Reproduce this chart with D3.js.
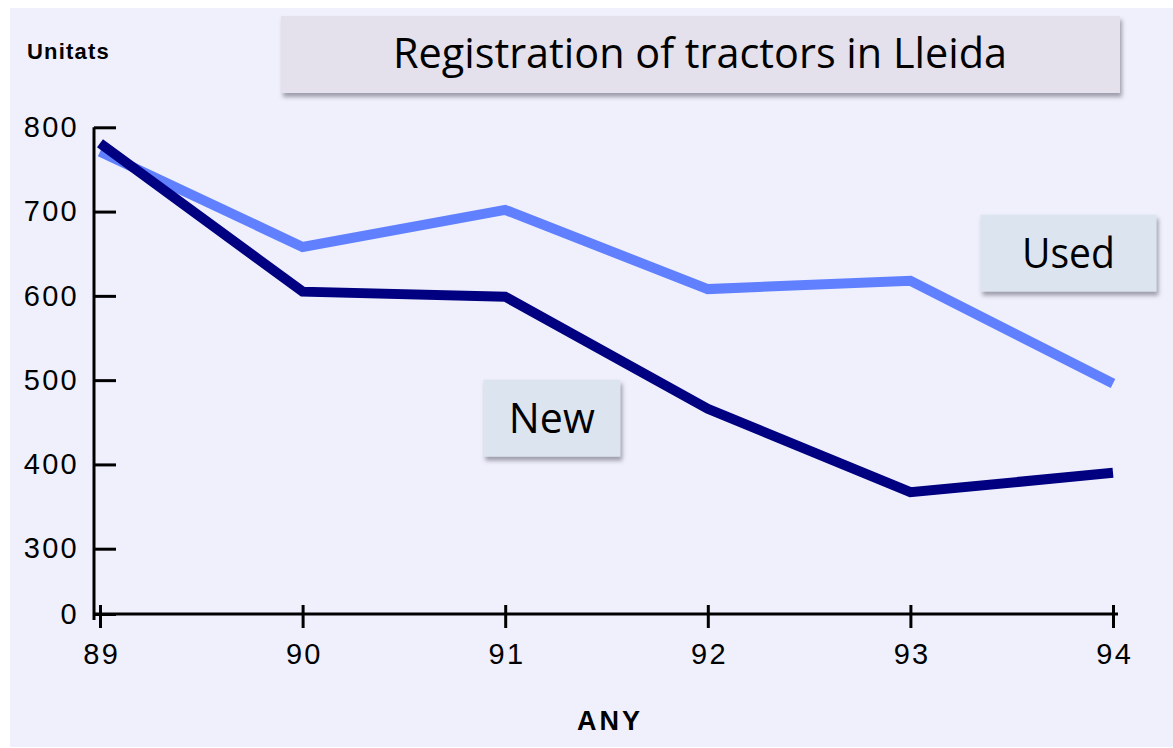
<!DOCTYPE html>
<html>
<head>
<meta charset="utf-8">
<script src="https://cdn.jsdelivr.net/npm/d3@7"></script>
<style>
  body { margin: 0; background: #fff; }
  svg { display: block; }
</style>
</head>
<body>
<svg id="chart" width="1173" height="748"></svg>
<script>
var years = [89, 90, 91, 92, 93, 94];
var newTractors = [781, 605, 599, 466, 367, 390];
var usedTractors = [771, 658, 702, 608, 618, 496];
var yTicks = [0, 300, 400, 500, 600, 700, 800];

var svg = d3.select("svg#chart"),
    width = +svg.attr("width"),
    height = +svg.attr("height");

// broken value axis: 0 sits just under 300
var x = d3.scaleLinear().domain([89, 94]).range([100, 1113]);
var y = d3.scaleLinear().domain([0, 300, 800]).range([614, 548.7, 127.3]);

var defs = svg.append("defs");
var shadow = defs.append("filter").attr("id", "shadow")
    .attr("x", "-10%").attr("y", "-20%").attr("width", "130%").attr("height", "160%");
shadow.append("feDropShadow")
    .attr("dx", 2).attr("dy", 4).attr("stdDeviation", 2)
    .attr("flood-color", "#5a5a6a").attr("flood-opacity", 0.55);

svg.append("rect")
    .attr("x", 10).attr("y", 8)
    .attr("width", width - 10).attr("height", height - 9)
    .attr("fill", "#f0f0fc");

// title box
svg.append("rect")
    .attr("x", 281).attr("y", 16).attr("width", 839).attr("height", 77)
    .attr("fill", "#e4e0ec").attr("filter", "url(#shadow)");
svg.append("text")
    .attr("x", 700).attr("y", 68)
    .attr("text-anchor", "middle")
    .attr("font-family", "'Open Sans', sans-serif")
    .attr("font-size", 42)
    .attr("textLength", 614).attr("lengthAdjust", "spacingAndGlyphs")
    .attr("fill", "#000")
    .text("Registration of tractors in Lleida");

// axes
var yAxis = d3.axisLeft(y)
    .tickValues(yTicks)
    .tickSizeInner(-22)
    .tickSizeOuter(0)
    .tickPadding(15)
    .tickFormat(d3.format("d"));

var gy = svg.append("g").attr("transform", "translate(94,0)").call(yAxis);
gy.select(".domain").remove();
gy.selectAll(".tick line").attr("stroke", "#000").attr("stroke-width", 3);
gy.selectAll(".tick text")
    .attr("font-family", "'Liberation Sans', Arial, sans-serif")
    .attr("font-size", 29)
    .attr("letter-spacing", 2.3)
    .attr("fill", "#000");
gy.append("line")
    .attr("x1", 0).attr("x2", 0)
    .attr("y1", y(800)).attr("y2", y(0) + 6)
    .attr("stroke", "#000").attr("stroke-width", 3);

var xAxis = d3.axisBottom(x)
    .tickValues(years)
    .tickSizeInner(14)
    .tickSizeOuter(0)
    .tickPadding(15)
    .tickFormat(d3.format("d"));

var gx = svg.append("g").attr("transform", "translate(0," + y(0) + ")").call(xAxis);
gx.select(".domain").remove();
gx.selectAll(".tick line").attr("y1", -9).attr("stroke", "#000").attr("stroke-width", 3);
gx.selectAll(".tick text")
    .attr("font-family", "'Liberation Sans', Arial, sans-serif")
    .attr("font-size", 29)
    .attr("letter-spacing", 2.3)
    .attr("dx", 1.2)
    .attr("fill", "#000");
gx.append("line")
    .attr("x1", x(89) - 6).attr("x2", x(94) + 5)
    .attr("y1", 0).attr("y2", 0)
    .attr("stroke", "#000").attr("stroke-width", 3);

svg.append("text")
    .attr("x", 27).attr("y", 59)
    .attr("font-family", "'Liberation Sans', Arial, sans-serif")
    .attr("font-weight", "bold")
    .attr("font-size", 22)
    .attr("letter-spacing", 1.2)
    .text("Unitats");

svg.append("text")
    .attr("x", 610).attr("y", 730)
    .attr("text-anchor", "middle")
    .attr("font-family", "'Liberation Sans', Arial, sans-serif")
    .attr("font-weight", "bold")
    .attr("font-size", 27)
    .attr("letter-spacing", 3)
    .text("ANY");

// series lines
var line = d3.line()
    .x(function(d) { return x(d.year); })
    .y(function(d) { return y(d.value); });

function pairs(vals) {
  return years.map(function(yr, i) { return {year: yr, value: vals[i]}; });
}

svg.append("path")
    .datum(pairs(usedTractors))
    .attr("d", line)
    .attr("fill", "none")
    .attr("stroke", "#6080ff")
    .attr("stroke-width", 10)
    .attr("stroke-linejoin", "miter");

svg.append("path")
    .datum(pairs(newTractors))
    .attr("d", line)
    .attr("fill", "none")
    .attr("stroke", "#000080")
    .attr("stroke-width", 10)
    .attr("stroke-linejoin", "miter");

// series labels, anchored in data space
function labelBox(cx, cy, w, h, text, tw) {
  var px = x(cx), py = y(cy);
  svg.append("rect")
      .attr("x", px - w / 2).attr("y", py - h / 2)
      .attr("width", w).attr("height", h)
      .attr("fill", "#dce4f0").attr("filter", "url(#shadow)");
  svg.append("text")
      .attr("x", px).attr("y", py + 15)
      .attr("text-anchor", "middle")
      .attr("font-family", "'Open Sans', sans-serif")
      .attr("font-size", 42)
      .attr("textLength", tw).attr("lengthAdjust", "spacingAndGlyphs")
      .attr("fill", "#000")
      .text(text);
}

labelBox(93.78, 650.8, 176, 77, "Used", 93);
labelBox(91.23, 454.9, 137, 77, "New", 86);
</script>
</body>
</html>
